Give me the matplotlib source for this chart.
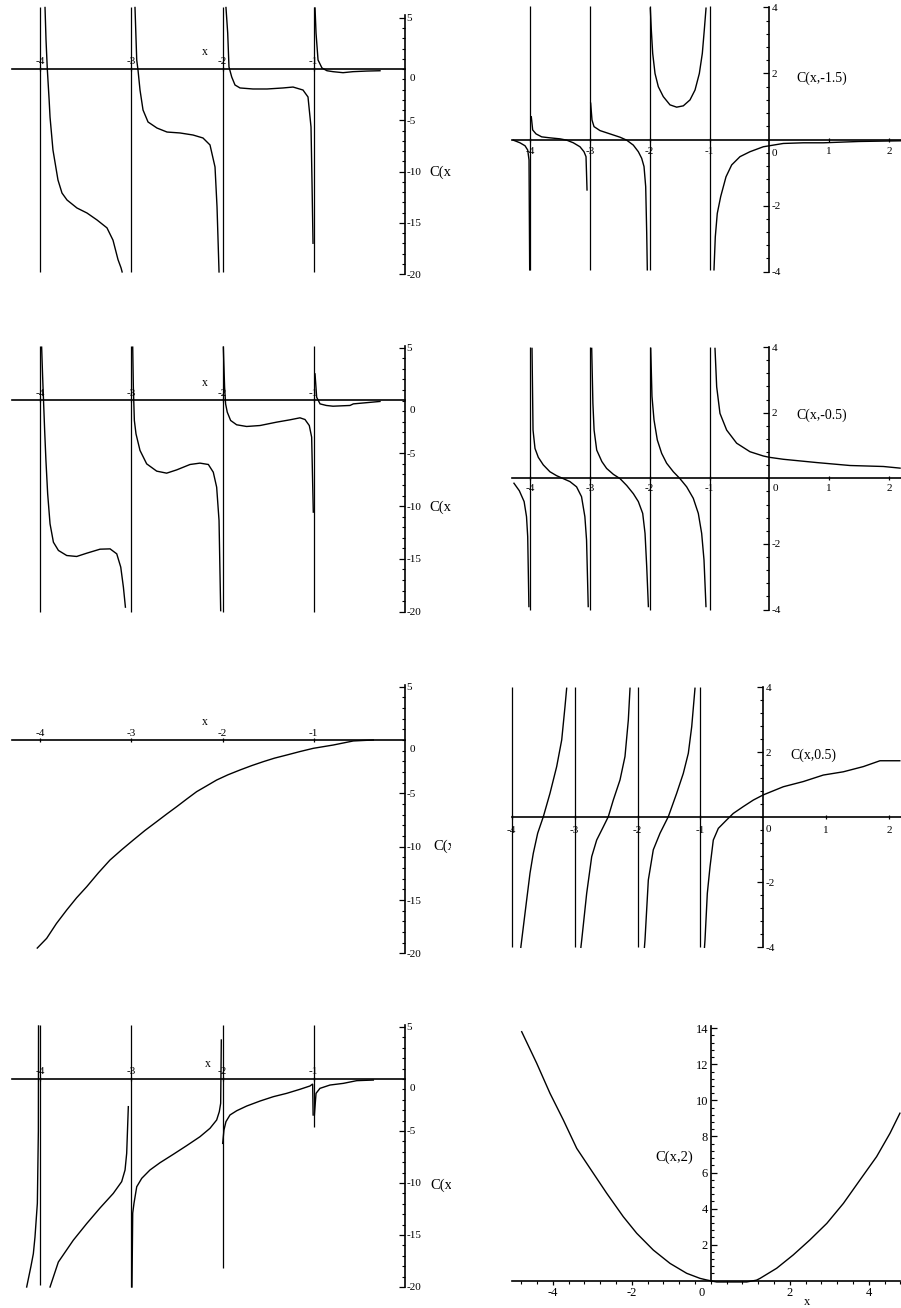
"""Eight Maple-style plots of C(x, a) redrawn as one tall sheet."""
import matplotlib
matplotlib.use("Agg")
import matplotlib.pyplot as plt
import numpy as np

W_PX, H_PX = 901, 1308
plt.rcParams["font.family"] = ["Liberation Serif", "DejaVu Serif"]

# ---------------- panel 1 (row 1, left) ----------------
P1_POLES = [-4, -3, -2, -1]
P1_POLE_SPAN = [-19.8, 6.0]
P1_A_X = [-3.945, -3.934, -3.92, -3.90, -3.89, -3.858, -3.803, -3.759, -3.704, -3.595, -3.485, -3.375, -3.266, -3.2, -3.145, -3.112, -3.10]
P1_A_Y = [6.0, 2.83, 0.0, -3.0, -4.7, -7.9, -10.83, -12.1, -12.78, -13.56, -14.05, -14.73, -15.5, -16.7, -18.6, -19.4, -19.8]
P1_B_X = [-2.959, -2.940, -2.926, -2.904, -2.871, -2.816, -2.718, -2.608, -2.466, -2.323, -2.214, -2.137, -2.082, -2.060, -2.038]
P1_B_Y = [6.0, 0.88, -0.1, -2.05, -4.0, -5.17, -5.76, -6.15, -6.24, -6.44, -6.73, -7.41, -9.56, -13.46, -19.8]
P1_C_X = [-1.962, -1.943, -1.929, -1.899, -1.863, -1.808, -1.666, -1.512, -1.337, -1.227, -1.118, -1.063, -1.030, -1.019, -1.008]
P1_C_Y = [6.0, 3.51, 0.2, -0.78, -1.56, -1.85, -1.95, -1.95, -1.85, -1.76, -2.05, -2.73, -5.66, -11.1, -17.0]
P1_D_X = [-0.986, -0.975, -0.953, -0.910, -0.855, -0.789, -0.679, -0.570, -0.416, -0.274]
P1_D_Y = [5.95, 3.5, 0.88, 0.1, -0.17, -0.26, -0.36, -0.26, -0.2, -0.17]

# ---------------- panel 2 (row 1, right) ----------------
P2_POLES = [-4, -3, -2, -1]
P2_POLE_SPAN = [-3.95, 4.04]
P2_L_X = [-4.281, -4.169, -4.085, -4.04, -4.018, -4.007]
P2_L_Y = [-0.02, -0.1, -0.19, -0.32, -0.62, -3.95]
P2_A_X = [-3.98, -3.957, -3.901, -3.806, -3.667, -3.5, -3.388, -3.277, -3.166, -3.099, -3.065, -3.048]
P2_A_Y = [0.69, 0.29, 0.17, 0.08, 0.05, 0.02, -0.02, -0.1, -0.22, -0.37, -0.52, -1.53]
P2_B_X = [-2.987, -2.965, -2.931, -2.831, -2.664, -2.497, -2.385, -2.274, -2.19, -2.134, -2.095, -2.067, -2.05, -2.04]
P2_B_Y = [1.1, 0.59, 0.39, 0.27, 0.17, 0.07, -0.02, -0.17, -0.37, -0.57, -0.82, -1.43, -2.84, -3.95]
P2_C_X = [-1.99, -1.973, -1.95, -1.911, -1.856, -1.773, -1.661, -1.549, -1.438, -1.326, -1.242, -1.17, -1.12, -1.087, -1.058]
P2_C_Y = [3.98, 3.32, 2.61, 2.0, 1.6, 1.3, 1.05, 0.98, 1.02, 1.2, 1.5, 2.0, 2.61, 3.32, 3.98]
P2_D_X = [-0.925, -0.903, -0.87, -0.813, -0.724, -0.629, -0.49, -0.323, -0.1, 0.067, 0.234, 0.569, 0.903, 1.5, 2.2]
P2_D_Y = [-3.95, -2.95, -2.24, -1.73, -1.13, -0.77, -0.52, -0.37, -0.22, -0.17, -0.12, -0.1, -0.1, -0.06, -0.04]

# ---------------- panel 3 (row 2, left) ----------------
P3_POLES = [-4, -3, -2, -1]
P3_POLE_SPAN = [-20.0, 5.2]
P3_A_X = [-3.982, -3.971, -3.960, -3.949, -3.935, -3.916, -3.890, -3.853, -3.798, -3.707, -3.598, -3.488, -3.342, -3.232, -3.159, -3.115, -3.086, -3.064]
P3_A_Y = [5.05, 2.21, -0.32, -2.84, -5.68, -8.84, -11.68, -13.42, -14.2, -14.68, -14.77, -14.46, -14.08, -14.05, -14.52, -15.78, -17.68, -19.57]
P3_B_X = [-2.984, -2.977, -2.966, -2.948, -2.904, -2.831, -2.721, -2.612, -2.502, -2.356, -2.247, -2.155, -2.101, -2.064, -2.038, -2.020]
P3_B_Y = [5.05, 1.26, -1.89, -3.16, -4.73, -6.0, -6.69, -6.88, -6.57, -6.06, -5.93, -6.06, -6.79, -8.21, -11.36, -19.9]
P3_C_X = [-1.991, -1.977, -1.966, -1.948, -1.911, -1.845, -1.736, -1.589, -1.407, -1.261, -1.151, -1.096, -1.049, -1.023, -1.005]
P3_C_Y = [5.05, 1.26, -0.32, -1.1, -1.89, -2.3, -2.46, -2.37, -2.05, -1.83, -1.64, -1.8, -2.37, -3.47, -10.57]
P3_D_X = [-0.986, -0.968, -0.931, -0.862, -0.789, -0.603, -0.566, -0.274]
P3_D_Y = [2.52, 0.31, -0.32, -0.47, -0.54, -0.47, -0.32, -0.09]

# ---------------- panel 4 (row 2, right) ----------------
P4_POLES = [-4, -3, -2, -1]
P4_POLE_SPAN = [-4.0, 4.0]
P4_L_X = [-4.27, -4.18, -4.10, -4.06, -4.04, -4.02]
P4_L_Y = [-0.15, -0.38, -0.71, -1.17, -1.78, -3.91]
P4_A_X = [-3.968, -3.951, -3.918, -3.863, -3.78, -3.669, -3.557, -3.446, -3.334, -3.223, -3.14, -3.084, -3.056, -3.028]
P4_A_Y = [3.96, 1.47, 0.91, 0.64, 0.41, 0.2, 0.08, -0.01, -0.1, -0.26, -0.56, -1.17, -1.88, -3.91]
P4_B_X = [-2.97, -2.95, -2.93, -2.886, -2.80, -2.72, -2.607, -2.496, -2.384, -2.273, -2.19, -2.117, -2.078, -2.05, -2.022]
P4_B_Y = [3.96, 2.29, 1.47, 0.86, 0.51, 0.3, 0.12, -0.01, -0.22, -0.47, -0.71, -1.07, -1.68, -2.69, -3.91]
P4_C_X = [-1.983, -1.962, -1.928, -1.873, -1.80, -1.717, -1.605, -1.494, -1.382, -1.271, -1.187, -1.131, -1.092, -1.059]
P4_C_Y = [3.96, 2.5, 1.78, 1.17, 0.76, 0.46, 0.2, -0.01, -0.26, -0.61, -1.07, -1.68, -2.49, -3.91]
P4_D_X = [-0.908, -0.88, -0.825, -0.713, -0.546, -0.323, -0.1, 0.0, 0.234, 0.792, 1.35, 1.908, 2.187]
P4_D_Y = [3.96, 2.79, 1.98, 1.47, 1.07, 0.81, 0.68, 0.64, 0.58, 0.48, 0.39, 0.36, 0.31]

# ---------------- panel 5 (row 3, left) ----------------
P5_X = [-4.03, -3.927, -3.82, -3.707, -3.6, -3.488, -3.36, -3.233, -3.1, -2.977, -2.85, -2.721, -2.61, -2.502,
        -2.39, -2.283, -2.17, -2.064, -1.94, -1.808, -1.68, -1.553, -1.43, -1.297, -1.15, -1.005, -0.786, -0.567, -0.347]
P5_Y = [-19.5, -18.59, -17.2, -15.93, -14.8, -13.75, -12.45, -11.25, -10.25, -9.37, -8.48, -7.65, -6.93, -6.25,
        -5.52, -4.84, -4.28, -3.75, -3.26, -2.81, -2.4, -2.03, -1.7, -1.41, -1.08, -0.78, -0.47, -0.09, 0.0]

# ---------------- panel 6 (row 3, right) ----------------
P6_POLES = [-4, -3, -2, -1]
P6_POLE_SPAN = [-4.0, 4.0]
P6_A_X = [-3.855, -3.841, -3.762, -3.709, -3.657, -3.587, -3.497, -3.391, -3.285, -3.205, -3.153, -3.126]
P6_A_Y = [-4.0, -3.78, -2.54, -1.72, -1.11, -0.49, 0.02, 0.74, 1.56, 2.38, 3.4, 3.97]
P6_B_X = [-2.9, -2.887, -2.808, -2.728, -2.649, -2.543, -2.464, -2.385, -2.278, -2.199, -2.146, -2.119]
P6_B_Y = [-4.0, -3.78, -2.34, -1.21, -0.7, -0.29, 0.02, 0.53, 1.15, 1.87, 2.99, 3.97]
P6_C_X = [-1.89, -1.881, -1.828, -1.749, -1.642, -1.510, -1.377, -1.272, -1.192, -1.138, -1.086]
P6_C_Y = [-4.0, -3.78, -1.93, -1.0, -0.49, 0.02, 0.74, 1.35, 1.97, 2.79, 3.97]
P6_D_X = [-0.935, -0.927, -0.89, -0.847, -0.795, -0.715, -0.582, -0.477, -0.318, -0.159, 0.0, 0.318, 0.636, 0.954, 1.272, 1.59, 1.855, 2.17]
P6_D_Y = [-4.0, -3.78, -2.34, -1.52, -0.7, -0.34, -0.08, 0.12, 0.33, 0.53, 0.69, 0.94, 1.1, 1.3, 1.4, 1.56, 1.74, 1.74]

# ---------------- panel 7 (row 4, left) ----------------
P7_POLES = [-4, -3, -2, -1]
P7_POLE_TOP = [5.2, 5.2, 5.2, 5.2]
P7_POLE_BOTTOM = [-19.8, -20.0, -18.2, -4.6]
P7_L_X = [-4.146, -4.099, -4.073, -4.055, -4.029, -4.018, -4.016]
P7_L_Y = [-20.0, -18.0, -16.8, -15.2, -11.95, -5.0, 5.1]
P7_A_X = [-3.89, -3.799, -3.635, -3.488, -3.342, -3.197, -3.105, -3.068, -3.05, -3.032]
P7_A_Y = [-20.0, -17.6, -15.5, -13.9, -12.4, -11.0, -9.87, -8.75, -7.14, -2.66]
P7_B_X = [-2.992, -2.984, -2.970, -2.940, -2.885, -2.795, -2.685, -2.539, -2.393, -2.247, -2.137, -2.064, -2.035, -2.020, -2.013]
P7_B_Y = [-20.0, -12.9, -11.95, -10.36, -9.55, -8.75, -8.05, -7.24, -6.41, -5.55, -4.74, -3.94, -3.14, -2.34, 3.75]
P7_C_X = [-1.998, -1.984, -1.962, -1.918, -1.844, -1.735, -1.589, -1.443, -1.297, -1.151, -1.041, -1.012, -1.007]
P7_C_Y = [-6.19, -4.9, -4.1, -3.46, -3.05, -2.6, -2.12, -1.7, -1.38, -0.99, -0.67, -0.48, -3.46]
P7_D_X = [-0.993, -0.975, -0.932, -0.822, -0.676, -0.529, -0.347]
P7_D_Y = [-3.46, -1.38, -0.9, -0.58, -0.42, -0.16, -0.1]

# ---------------- panel 8 (row 4, right) ----------------
P8_X = [-4.785, -4.405, -4.068, -3.73, -3.392, -2.972, -2.633, -2.213, -1.873, -1.453, -1.03, -0.608, -0.271, -0.101,
        0.15, 0.91, 1.16, 1.25, 1.67, 2.09, 2.51, 2.94, 3.36, 3.78, 4.2, 4.54, 4.79]
P8_Y = [13.81, 12.06, 10.39, 8.91, 7.34, 5.96, 4.85, 3.55, 2.63, 1.7, 0.96, 0.41, 0.13, 0.04,
        -0.07, -0.07, 0.03, 0.13, 0.69, 1.43, 2.26, 3.18, 4.29, 5.59, 6.88, 8.18, 9.29]

LEFT_XTICKS = [-4, -3, -2, -1]
LEFT_YTICKS = [5, -5, -10, -15, -20]
RIGHT_XTICKS = [-4, -3, -2, -1, 1, 2]
RIGHT_YTICKS = [4, 2, -2, -4]
P8_XTICKS = [-4, -2, 2, 4]
P8_YTICKS = [2, 4, 6, 8, 10, 12, 14]

LABELS = ["C(x,1)", "C(x,-1.5)", "C(x,-1)", "C(x,-0.5)", "C(x,0)", "C(x,0.5)", "C(x,1.5)", "C(x,2)"]

LW_CURVE = 1.0


def make_axes(fig, box, origin, scale):
    left, top, right, bottom = box
    ax = fig.add_axes([left / W_PX, 1 - bottom / H_PX, (right - left) / W_PX, (bottom - top) / H_PX])
    ax.set_xlim((left - origin[0]) / scale[0], (right - origin[0]) / scale[0])
    ax.set_ylim((origin[1] - bottom) / scale[1], (origin[1] - top) / scale[1])
    ax.patch.set_alpha(0)
    return ax


def cross_axes(ax, yside, xside, xspan, yspan, xticks, yticks, ystep, xstep=None,
               size=8, xdir="inout", xpad=4.0, ypad=1.5):
    for side, spine in ax.spines.items():
        spine.set_visible(side in (yside, xside))
    for side, span in ((yside, yspan), (xside, xspan)):
        ax.spines[side].set_position(("data", 0))
        ax.spines[side].set_bounds(*span)
        ax.spines[side].set_linewidth(1.2)
    ax.yaxis.set_ticks_position(yside)
    ax.xaxis.set_ticks_position(xside)
    ax.set_xticks(xticks, [f"{t:g}" for t in xticks])
    ax.set_yticks(yticks, [f"{t:g}" for t in yticks])
    ax.set_yticks(np.arange(yspan[0], yspan[1] + 1e-6, ystep), minor=True)
    if xstep:
        start = np.ceil(xspan[0] / xstep) * xstep
        ax.set_xticks(np.arange(start, xspan[1] + 1e-6, xstep), minor=True)
    ax.tick_params(axis="y", which="major", direction="in", length=4, width=0.9, pad=ypad, labelsize=size)
    ax.tick_params(axis="y", which="minor", direction="in", length=2.2, width=0.8)
    ax.tick_params(axis="x", which="major", direction=xdir, length=3, width=0.9, pad=xpad, labelsize=size)
    ax.tick_params(axis="x", which="minor", direction=xdir, length=2.2, width=0.8)


def zero_label(ax, offset, size=8):
    ax.annotate("0", (0, 0), xytext=offset, textcoords="offset points", ha="center", va="center", fontsize=size)


def curves(ax, pairs):
    for xs, ys in pairs:
        ax.plot(xs, ys, color="black", lw=LW_CURVE, solid_joinstyle="miter")


def main():
    fig = plt.figure(figsize=(W_PX / 100, H_PX / 100), dpi=100)
    fig.patch.set_facecolor("white")

    # left column shares the same x calibration
    left_box = [(0, 0, 451, 300), (0, 300, 451, 630), (0, 630, 451, 958), (0, 958, 451, 1308)]
    left_origin = [(405, 69), (405, 400.5), (405, 740), (405, 1079)]
    left_sy = [10.25, 10.56, 10.67, 10.4]
    left_curves = [
        [(P1_A_X, P1_A_Y), (P1_B_X, P1_B_Y), (P1_C_X, P1_C_Y), (P1_D_X, P1_D_Y)],
        [(P3_A_X, P3_A_Y), (P3_B_X, P3_B_Y), (P3_C_X, P3_C_Y), (P3_D_X, P3_D_Y)],
        [(P5_X, P5_Y)],
        [(P7_L_X, P7_L_Y), (P7_A_X, P7_A_Y), (P7_B_X, P7_B_Y), (P7_C_X, P7_C_Y), (P7_D_X, P7_D_Y)],
    ]
    left_poles = [(P1_POLES, *P1_POLE_SPAN), (P3_POLES, *P3_POLE_SPAN), None,
                  (P7_POLES, P7_POLE_BOTTOM, P7_POLE_TOP)]
    left_top = [5.3, 5.2, 5.15, 5.2]
    left_xlabel = [(-2.19, 1.66), (-2.19, 1.66), (-2.19, 1.69), (-2.16, 1.44)]
    left_name = [LABELS[0], LABELS[2], LABELS[4], LABELS[6]]
    left_name_pos = [(0.27, -10.05), (0.27, -10.08), (0.31, -10.0), (0.274, -10.2)]

    for i in range(4):
        ax = make_axes(fig, left_box[i], left_origin[i], (91.25, left_sy[i]))
        cross_axes(ax, "right", "top", (-4.31, 0), (-20, left_top[i]), LEFT_XTICKS, LEFT_YTICKS,
                   ystep=1, xpad=0.3, ypad=1.2)
        zero_label(ax, (5.5, -7))
        if left_poles[i] is not None:
            xs, lo, hi = left_poles[i]
            ax.vlines(xs, lo, hi, color="black", lw=0.9)
        curves(ax, left_curves[i])
        ax.text(*left_xlabel[i], "x", fontsize=8.5, ha="center", va="center")
        ax.text(*left_name_pos[i], left_name[i], fontsize=10.5, ha="left", va="center", clip_on=True)

    # right column, rows 1-3
    right_box = [(451, 0, 901, 300), (451, 300, 901, 630), (451, 630, 901, 958)]
    right_origin = [(769.3, 139.5), (769.3, 478.3), (763.3, 817.3)]
    right_scale = [(59.8, 33.0), (59.8, 32.8), (62.9, 32.5)]
    right_curves = [
        [(P2_L_X, P2_L_Y), (P2_A_X, P2_A_Y), (P2_B_X, P2_B_Y), (P2_C_X, P2_C_Y), (P2_D_X, P2_D_Y)],
        [(P4_L_X, P4_L_Y), (P4_A_X, P4_A_Y), (P4_B_X, P4_B_Y), (P4_C_X, P4_C_Y), (P4_D_X, P4_D_Y)],
        [(P6_A_X, P6_A_Y), (P6_B_X, P6_B_Y), (P6_C_X, P6_C_Y), (P6_D_X, P6_D_Y)],
    ]
    right_poles = [(P2_POLES, P2_POLE_SPAN), (P4_POLES, P4_POLE_SPAN), (P6_POLES, P6_POLE_SPAN)]
    right_xspan = [(-4.31, 2.2), (-4.31, 2.2), (-4.0, 2.2)]
    right_zero = [(4.0, -10.0), (4.5, -7.5), (3.5, -8.5)]
    right_xpad = [4.0, 2.5, 4.5]
    right_name = [LABELS[1], LABELS[3], LABELS[5]]
    right_name_pos = [(0.446, 1.86), (0.46, 1.93), (0.424, 1.92)]

    for i in range(3):
        ax = make_axes(fig, right_box[i], right_origin[i], right_scale[i])
        cross_axes(ax, "right", "bottom", right_xspan[i], (-4, 4), RIGHT_XTICKS, RIGHT_YTICKS,
                   ystep=0.4, xpad=right_xpad[i], ypad=1.5)
        zero_label(ax, right_zero[i])
        xs, span = right_poles[i]
        ax.vlines(xs, *span, color="black", lw=0.9)
        curves(ax, right_curves[i])
        ax.text(*right_name_pos[i], right_name[i], fontsize=10, ha="left", va="center")

    # panel 8: parabola-like curve
    ax = make_axes(fig, (451, 958, 901, 1308), (710.7, 1280.7), (39.5, 18.03))
    cross_axes(ax, "left", "bottom", (-5.04, 4.8), (0, 14.1), P8_XTICKS, P8_YTICKS,
               ystep=0.4, xstep=0.4, size=9, xdir="out", xpad=1.8, ypad=2.0)
    zero_label(ax, (-6.5, -9), size=9)
    curves(ax, [(P8_X, P8_Y)])
    ax.text(-1.41, 6.86, LABELS[7], fontsize=10.5, ha="left", va="center")
    ax.text(2.44, -1.18, "x", fontsize=9, ha="center", va="center")

    fig.savefig("out.png", dpi=100, facecolor="white")
    plt.close(fig)


if __name__ == "__main__":
    main()
